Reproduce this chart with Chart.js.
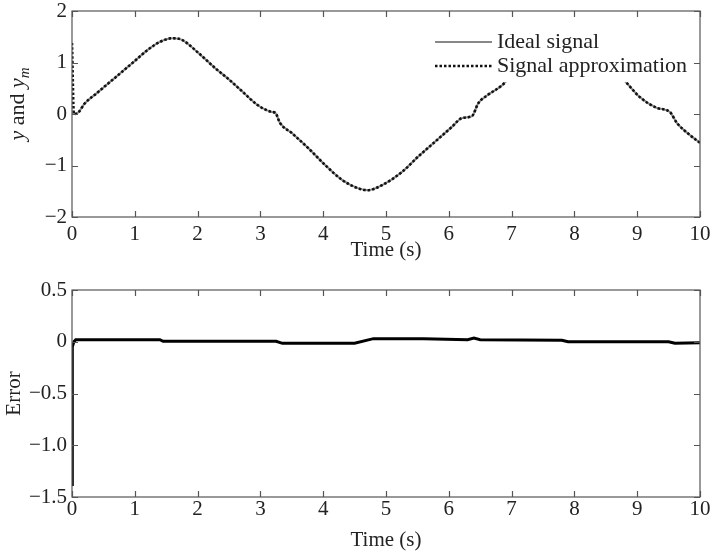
<!DOCTYPE html>
<html>
<head>
<meta charset="utf-8">
<script src="https://cdn.jsdelivr.net/npm/chart.js@4"></script>
<style>
    html, body { margin: 0; padding: 0; background: #fff; }
    #wrap { position: relative; width: 710px; height: 555px; }
    canvas { position: absolute; left: 0; }
    #topChart { top: 0; }
    #errorChart { top: 270px; }
</style>
</head>
<body>
<div id="wrap">
    <canvas id="topChart" width="710" height="270"></canvas>
    <canvas id="errorChart" width="710" height="285"></canvas>
</div>
<script>
// values
const timeS = [0, 0.03, 0.1, 0.2, 0.4, 0.7, 1.0, 1.2, 1.4, 1.59, 1.75, 2.0, 2.28, 2.5, 2.7, 2.96, 3.18, 3.24, 3.31, 3.5,
    3.76, 4.03, 4.3, 4.55, 4.71, 4.94, 5.25, 5.51, 5.78, 6.05, 6.21, 6.37, 6.47, 6.62, 6.85, 7.1, 7.4, 7.7, 7.9, 8.1,
    8.4, 8.65, 8.85, 9.04, 9.31, 9.52, 9.63, 9.8, 10];
const idealY = [0, 0, 0.03, 0.2, 0.41, 0.72, 1.03, 1.24, 1.4, 1.47, 1.44, 1.2, 0.89, 0.67, 0.45, 0.17, 0.04, 0.02, -0.17, -0.37,
    -0.66, -0.99, -1.28, -1.44, -1.48, -1.38, -1.13, -0.83, -0.54, -0.25, -0.08, -0.04, 0.21, 0.37, 0.56, 0.9, 1.2, 1.42, 1.47, 1.42,
    1.15, 0.85, 0.58, 0.33, 0.12, 0.04, -0.17, -0.37, -0.56];
const approxY = [1.38, 0, 0.03, 0.2, 0.41, 0.72, 1.03, 1.24, 1.4, 1.47, 1.44, 1.2, 0.89, 0.67, 0.45, 0.17, 0.04, 0.02, -0.17, -0.37,
    -0.66, -0.99, -1.28, -1.44, -1.48, -1.38, -1.13, -0.83, -0.54, -0.25, -0.08, -0.04, 0.21, 0.37, 0.56, 0.9, 1.2, 1.42, 1.47, 1.42,
    1.15, 0.85, 0.58, 0.33, 0.12, 0.04, -0.17, -0.37, -0.56];

const errorT = [0, 0.005, 0.03, 0.06, 1.4, 1.45, 3.25, 3.35, 4.5, 4.8, 5.6, 6.3, 6.4, 6.5, 7.8, 7.9, 9.5, 9.6, 10];
const errorY = [-1.38, -0.05, 0, 0.02, 0.02, 0.005, 0.005, -0.015, -0.015, 0.03, 0.03, 0.02, 0.035, 0.02, 0.015, 0, 0, -0.015, -0.01];

const seriesNames = ['Ideal signal', 'Signal approximation'];
const xTicks = [0, 1, 2, 3, 4, 5, 6, 7, 8, 9, 10];

const FONT = "'Liberation Serif', 'Times New Roman', serif";
const TXT = '#222';
Chart.defaults.font.family = FONT;
Chart.defaults.color = TXT;

const toPoints = (xs, ys) => xs.map((x, i) => ({ x: x, y: ys[i] }));
const minus = s => String(s).replace('-', '\u2212');

// box with inward ticks on all four sides
const frame = {
    id: 'frame',
    afterDatasetsDraw(chart) {
        const { ctx, chartArea: a, scales: { x, y } } = chart;
        ctx.save();
        ctx.strokeStyle = '#555';
        ctx.lineWidth = 1.2;
        ctx.strokeRect(a.left, a.top, a.right - a.left, a.bottom - a.top);
        ctx.beginPath();
        x.ticks.forEach(t => {
            const px = Math.round(x.getPixelForValue(t.value)) + 0.5;
            ctx.moveTo(px, a.bottom); ctx.lineTo(px, a.bottom - 6);
            ctx.moveTo(px, a.top); ctx.lineTo(px, a.top + 6);
        });
        y.ticks.forEach(t => {
            const py = Math.round(y.getPixelForValue(t.value)) + 0.5;
            ctx.moveTo(a.left, py); ctx.lineTo(a.left + 6, py);
            ctx.moveTo(a.right, py); ctx.lineTo(a.right - 6, py);
        });
        ctx.stroke();
        ctx.restore();
    }
};

// legend inside the plot, white box hides the curve behind it
const legendBox = {
    id: 'legendBox',
    afterDatasetsDraw(chart) {
        const { ctx, chartArea: a } = chart;
        const ds = chart.data.datasets;
        ctx.save();
        ctx.fillStyle = '#fff';
        ctx.fillRect(a.left + 356, a.top + 13, a.right - a.left - 362, 58);
        ds.forEach((d, i) => {
            const yy = a.top + 31 + i * 24;
            ctx.beginPath();
            ctx.strokeStyle = d.borderColor;
            ctx.lineWidth = d.borderWidth;
            ctx.setLineDash(d.borderDash || []);
            ctx.moveTo(a.left + 363, yy);
            ctx.lineTo(a.left + 420, yy);
            ctx.stroke();
            ctx.setLineDash([]);
            ctx.fillStyle = TXT;
            ctx.font = '22px ' + FONT;
            ctx.textBaseline = 'middle';
            ctx.fillText(d.label, a.left + 425, yy);
        });
        ctx.restore();
    }
};

// y axis title "y and y_m" with italic y and subscript m
const yTitle = {
    id: 'yTitle',
    afterDraw(chart) {
        const ctx = chart.ctx;
        const parts = [
            { t: 'y', f: 'italic 22px ' + FONT, dy: 0 },
            { t: ' and ', f: '22px ' + FONT, dy: 0 },
            { t: 'y', f: 'italic 22px ' + FONT, dy: 0 },
            { t: 'm', f: 'italic 15px ' + FONT, dy: 5 }
        ];
        ctx.save();
        let total = 0;
        parts.forEach(p => { ctx.font = p.f; p.w = ctx.measureText(p.t).width; total += p.w; });
        ctx.translate(24, 104);
        ctx.rotate(-Math.PI / 2);
        ctx.fillStyle = TXT;
        ctx.textBaseline = 'alphabetic';
        let cx = -total / 2;
        parts.forEach(p => { ctx.font = p.f; ctx.fillText(p.t, cx, p.dy); cx += p.w; });
        ctx.restore();
    }
};

function xScale(labelPad, axisHeight, titlePad) {
    return {
        type: 'linear', min: 0, max: 10,
        afterBuildTicks: s => { s.ticks = xTicks.map(v => ({ value: v })); },
        ticks: { padding: labelPad, color: TXT, font: { size: 21 }, maxRotation: 0 },
        grid: { display: false, drawTicks: false },
        border: { display: false },
        title: { display: true, text: 'Time (s)', color: TXT, font: { size: 21 }, padding: { top: 0, bottom: titlePad } },
        afterFit: s => { s.height = axisHeight; s.paddingLeft = 0; s.paddingRight = 0; }
    };
}

new Chart(document.getElementById('topChart'), {
    type: 'line',
    data: {
        datasets: [
            {
                label: seriesNames[0],
                data: toPoints(timeS, idealY),
                borderColor: '#888',
                borderWidth: 2,
                pointRadius: 0,
                cubicInterpolationMode: 'monotone',
                order: 1
            },
            {
                label: seriesNames[1],
                data: toPoints(timeS, approxY),
                borderColor: '#111',
                borderWidth: 2.6,
                borderDash: [2.5, 2],
                pointRadius: 0,
                cubicInterpolationMode: 'monotone',
                order: 0
            }
        ]
    },
    options: {
        responsive: false,
        animation: false,
        devicePixelRatio: 1,
        layout: { padding: { top: 11, right: 10, left: 0, bottom: 0 } },
        plugins: { legend: { display: false }, tooltip: { enabled: false } },
        scales: {
            x: xScale(5, 53, 7),
            y: {
                min: -2, max: 2,
                ticks: { stepSize: 1, padding: 5, color: TXT, font: { size: 21 }, callback: v => minus(v) },
                grid: { display: false, drawTicks: false },
                border: { display: false },
                afterFit: s => { s.width = 72; s.paddingTop = 0; s.paddingBottom = 0; }
            }
        }
    },
    plugins: [legendBox, frame, yTitle]
});

new Chart(document.getElementById('errorChart'), {
    type: 'line',
    data: {
        datasets: [{
            label: 'Error',
            data: toPoints(errorT, errorY),
            borderColor: '#000',
            borderWidth: 3,
            pointRadius: 0
        }]
    },
    options: {
        responsive: false,
        animation: false,
        devicePixelRatio: 1,
        layout: { padding: { top: 20, right: 10, left: 0, bottom: 0 } },
        plugins: { legend: { display: false }, tooltip: { enabled: false } },
        scales: {
            x: xScale(0, 58, 2),
            y: {
                min: -1.5, max: 0.5,
                ticks: {
                    stepSize: 0.5, padding: 5, color: TXT, font: { size: 21 },
                    callback: v => v === 0 ? '0' : minus(v.toFixed(1))
                },
                grid: { display: false, drawTicks: false },
                border: { display: false },
                title: { display: true, text: 'Error', color: TXT, font: { size: 21 }, padding: { top: 2 } },
                afterFit: s => { s.width = 72; s.paddingTop = 0; s.paddingBottom = 0; }
            }
        }
    },
    plugins: [frame]
});
</script>
</body>
</html>
